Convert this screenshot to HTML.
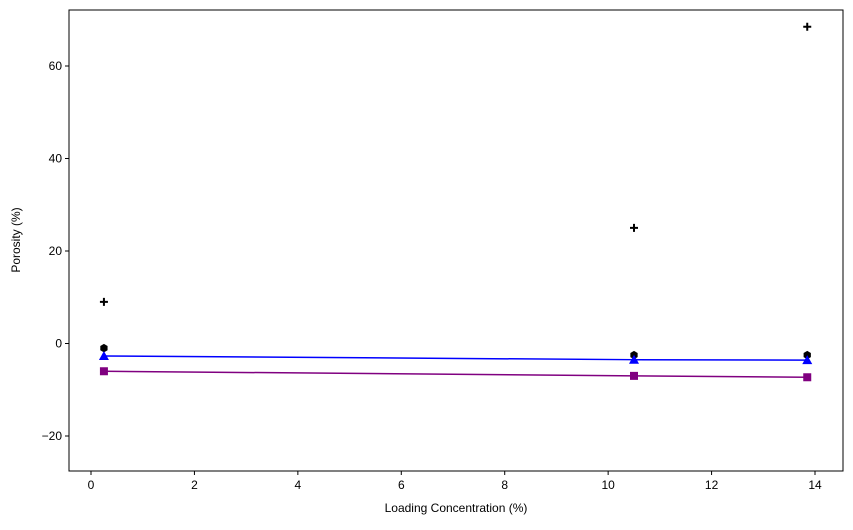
<!DOCTYPE html>
<html><head><meta charset="utf-8"><style>
body{margin:0;background:#fff;font-family:"Liberation Sans",sans-serif;}
svg text{font-family:"Liberation Sans",sans-serif;font-size:12px;fill:#000;}
</style></head><body>
<svg id="chart" width="853" height="525"></svg>
<script>
const xVals=[0.25,10.5,13.85];
const plusVals=[9,25,68.5];
const hexVals=[-1,-2.5,-2.5];
const triVals=[-2.7,-3.5,-3.6];
const sqVals=[-6,-7,-7.3];
const xTicks=[0,2,4,6,8,10,12,14];
const yTicks=[-20,0,20,40,60];
const L=69,R=843,T=10,B=471;
const sx=v=>91+(v-0)*(815-91)/14;
const sy=v=>343.5-v*(92.5/20);
const svg=document.getElementById('chart');
const NS='http://www.w3.org/2000/svg';
function mk(tag,attrs,parent){const e=document.createElementNS(NS,tag);for(const k in attrs)e.setAttribute(k,attrs[k]);(parent||svg).appendChild(e);return e;}
const frame=mk('rect',{x:L,y:T,width:R-L,height:B-T,fill:'none',stroke:'#000','stroke-width':1});


xTicks.forEach(t=>{const x=sx(t);
const l=mk('line',{x1:x,x2:x,y1:B,y2:B+4,stroke:'#000'});


const tx=mk('text',{x:x,y:B+18,'text-anchor':'middle'});tx.textContent=t;

});
yTicks.forEach(t=>{const y=sy(t);
const l=mk('line',{x1:L-4,x2:L,y1:y,y2:y,stroke:'#000'});


const tx=mk('text',{x:L-7,y:y+4,'text-anchor':'end'});tx.textContent=t<0?'\u221220'.replace('20',-t):t;

});
const xt=mk('text',{x:456,y:512,'text-anchor':'middle'});xt.textContent='Loading Concentration (%)';


const yt=mk('text',{x:20,y:240,'text-anchor':'middle',transform:'rotate(-90 20 240)'});yt.textContent='Porosity (%)';


function line(vals,color,name){const p=mk('polyline',{points:xVals.map((x,i)=>sx(x)+','+sy(vals[i])).join(' '),fill:'none',stroke:color,'stroke-width':1.5});

}
line(sqVals,'#800080','purple-line');
line(triVals,'#0000ff','blue-line');
xVals.forEach((x,i)=>{const cx=sx(x);
let y=sy(sqVals[i]);
const s=mk('rect',{x:cx-4,y:y-4,width:8,height:8,fill:'#800080'});


y=sy(hexVals[i]);
const h=mk('polygon',{points:[0,1,2,3,4,5].map(k=>{const a=Math.PI/3*k+Math.PI/6;return (cx+4.2*Math.cos(a))+','+(y+4.2*Math.sin(a));}).join(' '),fill:'#000'});


y=sy(triVals[i]);
const t=mk('polygon',{points:`${cx},${y-5} ${cx-5},${y+4} ${cx+5},${y+4}`,fill:'#0000ff'});


y=sy(plusVals[i]);
const p=mk('path',{d:`M${cx-4} ${y}H${cx+4}M${cx} ${y-4}V${y+4}`,stroke:'#000','stroke-width':2});


});
</script>
</body></html>
